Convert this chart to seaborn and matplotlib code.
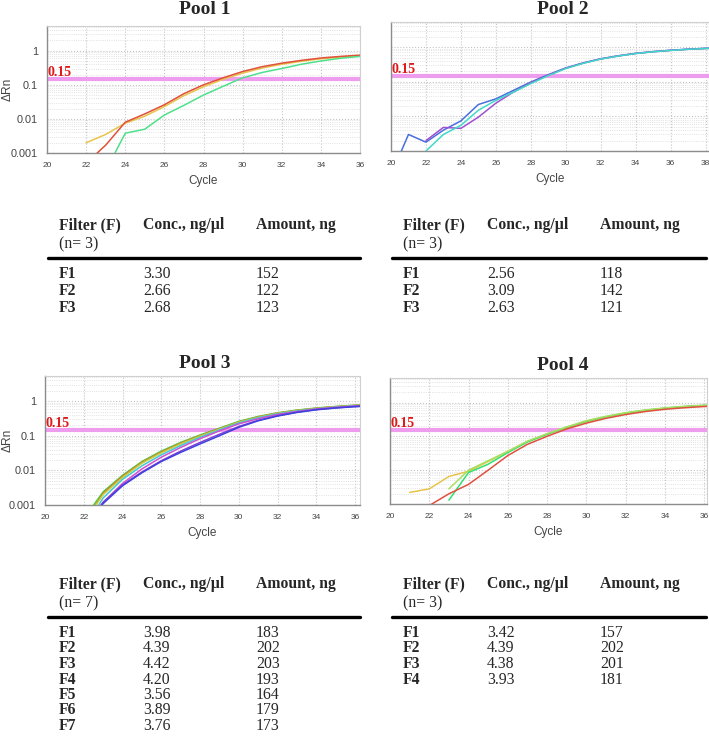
import pandas as pd
import seaborn as sns
import matplotlib.pyplot as plt
from matplotlib.lines import Line2D
from matplotlib.ticker import FixedLocator, LogLocator, NullFormatter

W, H = 709, 743

# amplification curves: delta Rn per cycle, one list per well
pool1_start = [22, 22, 23]
pool1_curves = [
    [0.002, 0.0035, 0.0075, 0.012, 0.023, 0.048, 0.088, 0.145, 0.22, 0.31, 0.40, 0.49, 0.58, 0.65, 0.71, 0.75],
    [0.0005, 0.0017, 0.008, 0.014, 0.026, 0.055, 0.10, 0.16, 0.245, 0.34, 0.43, 0.52, 0.61, 0.68, 0.74, 0.78],
    [0.0003, 0.0038, 0.005, 0.013, 0.025, 0.05, 0.09, 0.16, 0.23, 0.30, 0.40, 0.50, 0.60, 0.68, 0.72],
]
pool1_colors = ['#e8c44a', '#e0503a', '#4fe08c']

pool2_start = [20, 22, 22]
pool2_curves = [
    [0.0002, 0.003, 0.0018, 0.004, 0.0074, 0.022, 0.032, 0.056, 0.098, 0.16, 0.25, 0.35, 0.46, 0.56, 0.66, 0.74, 0.81, 0.87, 0.92, 0.95],
    [0.002, 0.0048, 0.0045, 0.0095, 0.024, 0.05, 0.093, 0.155, 0.245, 0.345, 0.455, 0.555, 0.655, 0.735, 0.805, 0.865, 0.915, 0.945],
    [0.001, 0.003, 0.0055, 0.015, 0.029, 0.05, 0.088, 0.15, 0.24, 0.34, 0.45, 0.55, 0.65, 0.73, 0.80, 0.86, 0.91, 0.94],
]
pool2_colors = ['#4a6ee0', '#a050d0', '#40d8c8']

pool3_start = [22, 22, 22, 22, 22, 22, 22]
pool3_curves = [
    [0.0004, 0.0024, 0.0072, 0.018, 0.036, 0.064, 0.105, 0.165, 0.26, 0.36, 0.46, 0.55, 0.63, 0.70, 0.76, 0.80],
    [0.0003, 0.0022, 0.0068, 0.017, 0.034, 0.061, 0.10, 0.16, 0.25, 0.35, 0.45, 0.54, 0.62, 0.69, 0.75, 0.79],
    [0.0003, 0.0020, 0.0062, 0.016, 0.032, 0.058, 0.097, 0.155, 0.245, 0.34, 0.44, 0.53, 0.61, 0.68, 0.74, 0.78],
    [0.0002, 0.0016, 0.0055, 0.0135, 0.028, 0.052, 0.09, 0.148, 0.235, 0.33, 0.43, 0.52, 0.60, 0.67, 0.73, 0.77],
    [0.0002, 0.0012, 0.0042, 0.011, 0.024, 0.046, 0.082, 0.138, 0.22, 0.31, 0.41, 0.50, 0.59, 0.66, 0.72, 0.76],
    [0.0002, 0.0012, 0.0038, 0.009, 0.019, 0.036, 0.064, 0.11, 0.185, 0.28, 0.38, 0.48, 0.57, 0.64, 0.70, 0.74],
    [0.0002, 0.0011, 0.0036, 0.0085, 0.018, 0.033, 0.058, 0.10, 0.175, 0.27, 0.37, 0.47, 0.56, 0.63, 0.69, 0.73],
]
pool3_colors = ['#44d044', '#d08030', '#c4d040', '#40c8d8', '#d050d0', '#8040d0', '#4040e0']

pool4_start = [21, 23, 23, 22]
pool4_curves = [
    [0.0022, 0.0028, 0.0065, 0.0093, 0.018, 0.036, 0.07, 0.115, 0.18, 0.27, 0.37, 0.48, 0.58, 0.67, 0.74, 0.80, 0.83],
    [0.0013, 0.0085, 0.015, 0.033, 0.068, 0.115, 0.185, 0.28, 0.38, 0.49, 0.59, 0.68, 0.76, 0.82, 0.85],
    [0.0028, 0.010, 0.019, 0.036, 0.072, 0.12, 0.19, 0.29, 0.39, 0.50, 0.60, 0.69, 0.77, 0.83, 0.86],
    [0.0009, 0.002, 0.0038, 0.010, 0.027, 0.058, 0.10, 0.165, 0.245, 0.34, 0.44, 0.54, 0.63, 0.70, 0.76, 0.80],
]
pool4_colors = ['#e8c44a', '#30e070', '#a8e060', '#e05040']

threshold = 0.15

# quantification tables
pool1_n, pool1_conc, pool1_amount = 3, [3.30, 2.66, 2.68], [152, 122, 123]
pool2_n, pool2_conc, pool2_amount = 3, [2.56, 3.09, 2.63], [118, 142, 121]
pool3_n, pool3_conc, pool3_amount = 7, [3.98, 4.39, 4.42, 4.20, 3.56, 3.89, 3.76], [183, 202, 203, 193, 164, 179, 173]
pool4_n, pool4_conc, pool4_amount = 3, [3.42, 4.39, 4.38, 3.93], [157, 202, 201, 181]

sns.set_style('white')
plt.rcParams['font.family'] = ['Liberation Sans', 'DejaVu Sans']

fig = plt.figure(figsize=(W / 100, H / 100), dpi=100)


def box(x0, y0, x1, y1):
    return [x0 / W, 1 - y1 / H, (x1 - x0) / W, (y1 - y0) / H]


def draw_pool(rect, title, title_xy, starts, curves, colors, xmax, ylab):
    ax = fig.add_axes(box(*rect))
    rows = []
    for i, (s, vals) in enumerate(zip(starts, curves)):
        for k, v in enumerate(vals):
            rows.append({'cycle': s + k, 'drn': v, 'well': f'w{i}'})
    df = pd.DataFrame(rows)
    sns.lineplot(data=df, x='cycle', y='drn', hue='well', palette=colors,
                 legend=False, estimator=None, lw=1.1, ax=ax, zorder=3)
    ax.set_yscale('log')
    ax.set_xlim(20, xmax)
    ax.set_ylim(0.001, 5.3)
    ax.axhline(threshold, color='#ee9cee', lw=3, zorder=2)
    ax.text(0.002, threshold, '0.15', transform=ax.get_yaxis_transform(),
            color='#e01818', fontweight='bold', family='Liberation Serif',
            fontsize=10, ha='left', va='bottom')

    ax.xaxis.set_major_locator(FixedLocator(list(range(20, int(xmax) + 1, 2))))
    ax.yaxis.set_major_locator(FixedLocator([0.001, 0.01, 0.1, 1]))
    ax.yaxis.set_minor_locator(LogLocator(base=10, subs=range(2, 10), numticks=20))
    ax.yaxis.set_minor_formatter(NullFormatter())
    ax.grid(True, which='major', ls=':', color='#c4c4c4', lw=0.8)
    ax.grid(True, which='minor', axis='y', ls=':', color='#d8d8d8', lw=0.6)
    ax.tick_params(axis='x', labelsize=6, colors='#444444', length=3, width=0.6)
    ax.tick_params(axis='y', which='major', labelsize=7.8, colors='#444444', length=3, width=0.6)
    ax.tick_params(axis='y', which='minor', length=0)
    if ylab:
        ax.set_yticklabels(['0.001', '0.01', '0.1', '1'])
        ax.set_ylabel('ΔRn', fontsize=8.6, color='#444444')
        x0 = rect[0]
        ax.yaxis.set_label_coords((14 - x0) / (rect[2] - x0), 0.5)
    else:
        ax.set_yticklabels([])
        ax.set_ylabel('')
    ax.set_xlabel('Cycle', fontsize=8.5, color='#444444', labelpad=4)
    for side in ['left', 'bottom']:
        ax.spines[side].set_color('#8c8c8c')
        ax.spines[side].set_linewidth(1)
    for side in ['top', 'right']:
        ax.spines[side].set_color('#d0d0d0')
        ax.spines[side].set_linewidth(0.8)
    fig.text(title_xy[0] / W, 1 - title_xy[1] / H, title, family='Liberation Serif',
             fontweight='bold', fontsize=14, ha='center', va='center')


def draw_table(x_line, x_line_end, y_head, n, conc, amount, row_gap):
    cx = [x_line + 11, x_line + 95, x_line + 208]
    serif = 'Liberation Serif'
    fs = 11.3
    for x, t in zip(cx, ['Filter (F)', 'Conc., ng/µl', 'Amount, ng']):
        fig.text(x / W, 1 - y_head / H, t, family=serif, fontweight='bold',
                 fontsize=fs, ha='left', va='center')
    fig.text(cx[0] / W, 1 - (y_head + 19) / H, f'(n= {n})', family=serif,
             fontsize=fs, ha='left', va='center')
    y_rule = y_head + 33
    fig.add_artist(Line2D([x_line / W, x_line_end / W], [1 - y_rule / H] * 2,
                          color='black', lw=2.4))
    for i, (c, a) in enumerate(zip(conc, amount)):
        y = y_rule + 16 + row_gap * i
        fig.text(cx[0] / W, 1 - y / H, f'F{i + 1}', family=serif, fontweight='bold',
                 fontsize=fs, ha='left', va='center')
        fig.text(cx[1] / W, 1 - y / H, f'{c:.2f}', family=serif,
                 fontsize=fs, ha='left', va='center')
        fig.text(cx[2] / W, 1 - y / H, f'{a}', family=serif,
                 fontsize=fs, ha='left', va='center')


draw_pool((47, 26, 360, 153), 'Pool 1', (205, 10), pool1_start, pool1_curves, pool1_colors, 36.0, True)
draw_pool((391, 22, 709, 151), 'Pool 2', (563, 9), pool2_start, pool2_curves, pool2_colors, 38.2, False)
draw_pool((45, 376, 360, 505), 'Pool 3', (205, 364), pool3_start, pool3_curves, pool3_colors, 36.25, True)
draw_pool((390, 378, 707, 504), 'Pool 4', (563, 365), pool4_start, pool4_curves, pool4_colors, 36.15, False)

draw_table(48, 360, 225, pool1_n, pool1_conc, pool1_amount, 17)
draw_table(392, 706, 225, pool2_n, pool2_conc, pool2_amount, 17)
draw_table(48, 360, 584, pool3_n, pool3_conc, pool3_amount, 15.5)
draw_table(392, 706, 584, pool4_n, pool4_conc, pool4_amount, 15.5)

fig.savefig('out.png', dpi=100)
